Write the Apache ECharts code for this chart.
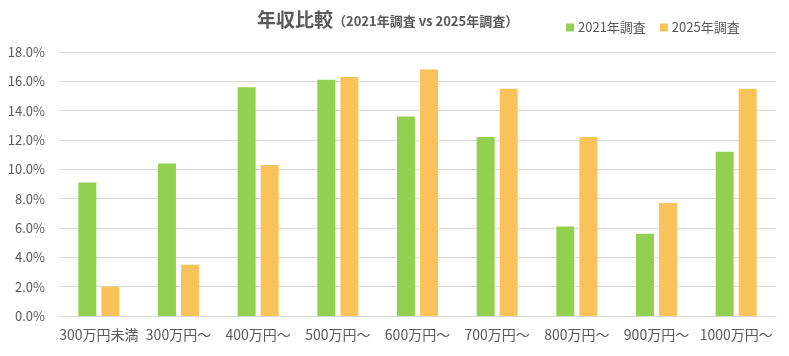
<!DOCTYPE html>
<html><head><meta charset="utf-8">
<script src="https://cdn.jsdelivr.net/npm/echarts@6/dist/echarts.min.js"></script>
<style>html,body{margin:0;padding:0;background:#fff}#c{width:789px;height:356px}</style>
</head><body><div id="c"></div>
<script>
const categories = ['300万円未満','300万円～','400万円～','500万円～','600万円～','700万円～','800万円～','900万円～','1000万円～'];
const survey2021 = [9.1, 10.4, 15.6, 16.1, 13.6, 12.2, 6.1, 5.6, 11.2];
const survey2025 = [2.0, 3.5, 10.3, 16.3, 16.8, 15.5, 12.2, 7.7, 15.5];
const seriesNames = ['2021年調査','2025年調査'];
const font = '"Noto Sans CJK JP", "Noto Sans", sans-serif';
const chart = echarts.init(document.getElementById('c'));
chart.setOption({
  animation: false,
  textStyle: { fontFamily: font },
  title: {
    text: '{a|年収比較}{b|（2021年調査 vs 2025年調査）}',
    left: 252, top: 5,
    textStyle: {
      rich: {
        a: { fontSize: 19, fontWeight: 'bold', color: '#595959', fontFamily: font },
        b: { fontSize: 13, fontWeight: 'bold', color: '#595959', fontFamily: font, padding: [3,0,0,0] }
      }
    }
  },
  legend: {
    left: 561, top: 16,
    icon: 'rect', itemWidth: 8, itemHeight: 8, itemGap: 14,
    textStyle: { fontSize: 13, color: '#595959', fontFamily: font, padding: [0,0,0,-1] },
    data: seriesNames
  },
  grid: { left: 59, right: 13, top: 52, bottom: 40, containLabel: false },
  xAxis: {
    type: 'category', data: categories,
    axisLine: { lineStyle: { color: '#d9d9d9' } },
    axisTick: { show: false },
    axisLabel: { interval: 0, fontSize: 14, color: '#595959', margin: 12, fontFamily: font }
  },
  yAxis: {
    type: 'value', min: 0, max: 18, interval: 2,
    axisLine: { show: false }, axisTick: { show: false },
    splitLine: { lineStyle: { color: '#d9d9d9' } },
    axisLabel: { formatter: v => v.toFixed(1) + '%', fontSize: 13, color: '#595959', margin: 14, fontFamily: font }
  },
  series: [
    { name: seriesNames[0], type: 'bar', data: survey2021, barWidth: 18, barGap: '28%', itemStyle: { color: '#92D050' } },
    { name: seriesNames[1], type: 'bar', data: survey2025, barWidth: 18, barGap: '28%', itemStyle: { color: '#F9C35A' } }
  ]
});
</script></body></html>
